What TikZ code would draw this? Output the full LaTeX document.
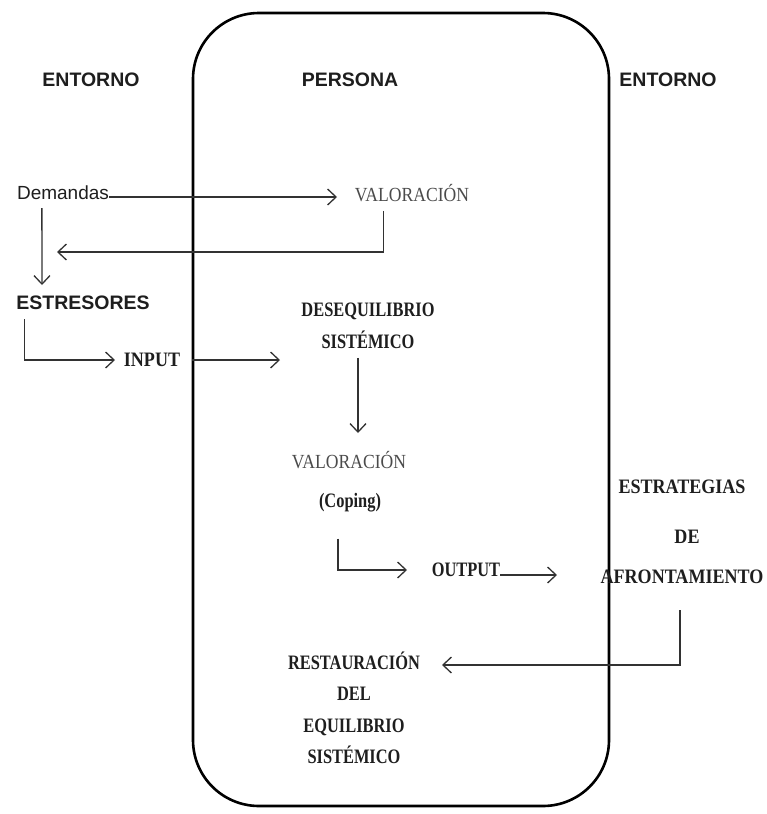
\documentclass[tikz,border=0pt]{standalone}
\usepackage{fontspec}
\setmainfont{Liberation Serif}
\setsansfont{Liberation Sans}
\newfontfamily\narrowserif[FakeStretch=0.8]{Liberation Serif}
\newfontfamily\semiserif[FakeStretch=0.88]{Liberation Serif}
\usetikzlibrary{
  arrows.meta,
  positioning
}
\definecolor{inkgray}{RGB}{30,30,30}
\definecolor{linegray}{RGB}{50,50,50}
\tikzset{
  zone/.style={font=\sffamily\bfseries\fontsize{19.5}{21}\selectfont,
    text=inkgray,inner sep=0pt},
  plain/.style={font=\sffamily\fontsize{19}{21}\selectfont,
    text=inkgray,inner sep=0pt},
  stage/.style={font=\narrowserif\bfseries\fontsize{20.5}{31.5}\selectfont,
    text=inkgray,align=center,inner sep=0pt},
  widestage/.style={font=\semiserif\bfseries\fontsize{20.5}{22}\selectfont,
    text=inkgray,align=center,inner sep=0pt},
  appraise/.style={font=\semiserif\fontsize{20}{22}\selectfont,
    text=inkgray!80,inner sep=0pt},
  flow/.style={-{Straight Barb[length=8.5pt,width=16pt]},line width=1.3pt,draw=linegray},
  border/.style={draw=black,line width=2.6pt,rounded corners=66pt}
}
\begin{document}
\begin{tikzpicture}[x=1pt,y=-1pt]
  \useasboundingbox (0,0) rectangle (766,814);
  \draw[border] (193,13) rectangle (609,806);
  % headers
  \node[zone] (entl) at (91,80) {ENTORNO};
  \node[zone] (pers) at (350,80) {PERSONA};
  \node[zone] (entr) at (668,80) {ENTORNO};
  % left side
  \node[plain] (dem) at (63,193) {Demandas};
  \node[appraise] (valA) at (412,193) {VALORACIÓN};
  \node[zone] (estr) at (83,303) {ESTRESORES};
  \node[widestage] (inp) at (152,360) {INPUT};
  \node[stage] (deseq) at (368,326) {DESEQUILIBRIO\\SISTÉMICO};
  \node[appraise] (valB) at (349,460) {VALORACIÓN};
  \node[stage] (cop) at (350,503) {(Coping)};
  \node[stage] (outp) at (466,570) {OUTPUT};
  % right side
  \node[widestage] (estrat) at (682,487) {ESTRATEGIAS};
  \node[widestage] (de) at (687,537) {DE};
  \node[widestage] (afr) at (682,577) {AFRONTAMIENTO};
  \node[stage] (rest) at (354,708) {RESTAURACIÓN\\DEL\\EQUILIBRIO\\SISTÉMICO};
  % free arrow ends
  \coordinate (valtip) at (337,197);
  \coordinate (backtip) at (57,252);
  \coordinate (esttip) at (42,285);
  \coordinate (inptip) at (115,360);
  \coordinate (destip) at (280,360);
  \coordinate (valBtip) at (358,433);
  \coordinate (outtip) at (407,570);
  \coordinate (afrtip) at (557,575);
  \coordinate (restip) at (442,665);
  % connectors
  \draw[flow] ([yshift=-4pt]dem.east) -- (valtip);
  \draw[flow] ([xshift=29pt,yshift=-9pt]valA.south west) |- (backtip);
  \draw[flow] ([xshift=25pt,yshift=-8pt]dem.south west) -- (esttip);
  \draw[flow] ([xshift=8pt,yshift=-9pt]estr.south west) |- (inptip);
  \draw[flow] ([xshift=12pt]inp.east) -- (destip);
  \draw[flow] ([xshift=-10pt,yshift=-9pt]deseq.south) -- (valBtip);
  \draw[flow] ([xshift=-12pt,yshift=-26pt]cop.south) |- (outtip);
  \draw[flow] ([yshift=-5pt]outp.east) -- (afrtip);
  \draw[flow] ([xshift=-2pt,yshift=-26pt]afr.south) |- (restip);
\end{tikzpicture}
\end{document}
